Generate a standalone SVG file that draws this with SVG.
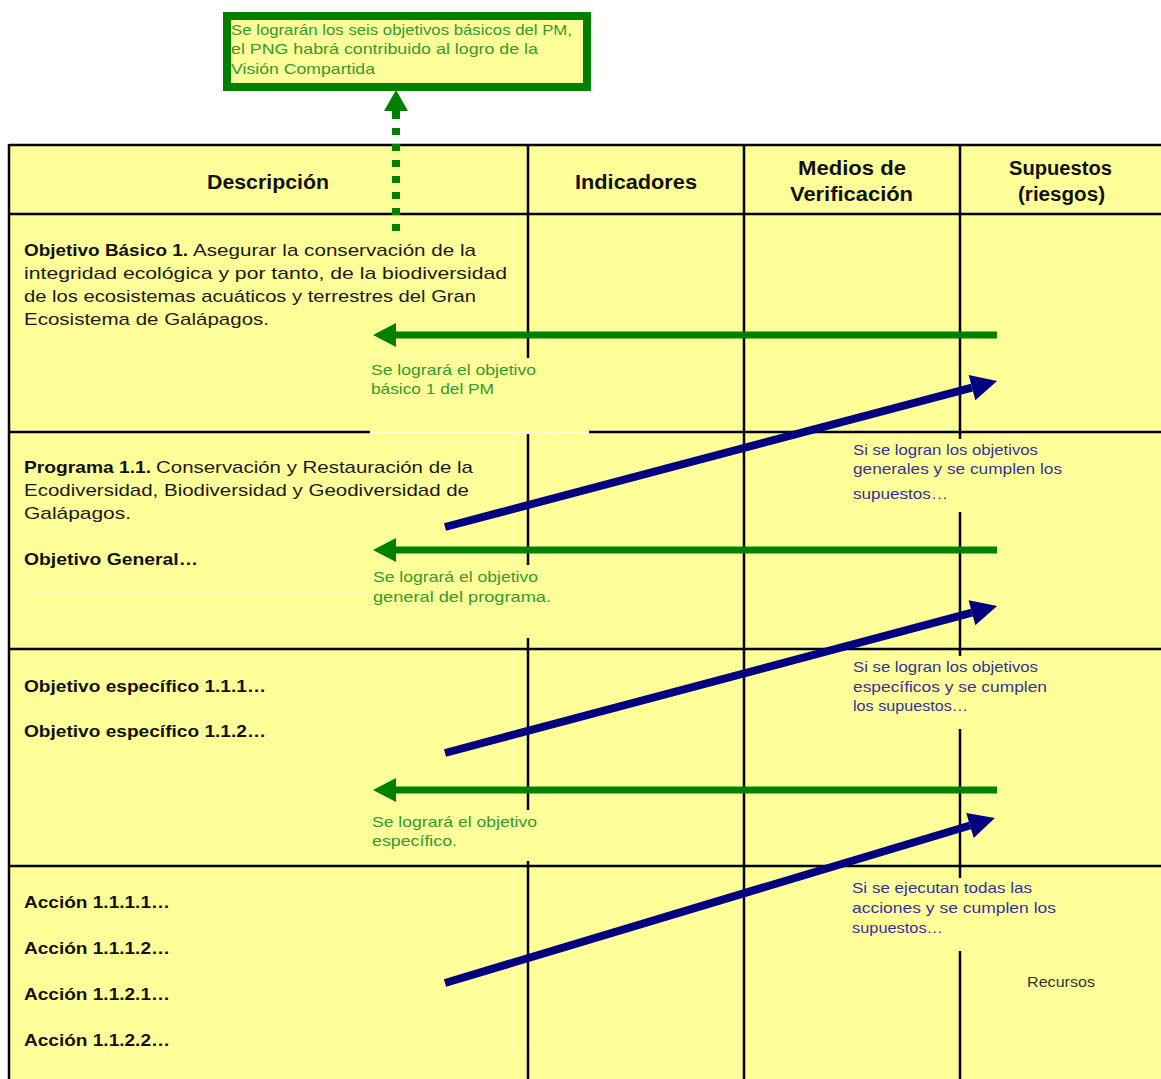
<svg xmlns="http://www.w3.org/2000/svg" width="1161" height="1079" viewBox="0 0 1161 1079">
<style>
.grid{stroke:#000;stroke-width:2.5;fill:none}
.faint{stroke:#ffffcc;stroke-width:1;fill:none}
.cover{fill:#ffff99;stroke:none}
.hd{font-family:"Liberation Sans",Arial,sans-serif;font-weight:bold;font-size:20px;fill:#111}
.bd{font-family:"Liberation Sans",Arial,sans-serif;font-size:17px;fill:#1a1a1a}
.bb{font-family:"Liberation Sans",Arial,sans-serif;font-size:17px;font-weight:bold;fill:#111}
.gl{font-family:"Liberation Sans",Arial,sans-serif;font-size:15px;fill:#339933}
.bl{font-family:"Liberation Sans",Arial,sans-serif;font-size:15px;fill:#333399}
.rc{font-family:"Liberation Sans",Arial,sans-serif;font-size:15px;fill:#333}
.garrow{stroke:#008000;stroke-width:7;fill:none}
.barrow{stroke:#000080;stroke-width:8;fill:none}
</style>
<defs>
<marker id="gh" markerUnits="userSpaceOnUse" markerWidth="26" markerHeight="26" refX="0" refY="12" orient="auto" overflow="visible">
<path d="M0,0 L23,12 L0,24 Z" fill="#008000"/>
</marker>
<marker id="bh" markerUnits="userSpaceOnUse" markerWidth="30" markerHeight="28" refX="0" refY="13" orient="auto" overflow="visible">
<path d="M0,0 L26,13 L0,26 Z" fill="#000080"/>
</marker>
</defs>
<rect x="0" y="0" width="1161" height="1079" fill="#fff"/>

<g id="table">
<rect x="9" y="145" width="1152" height="934" fill="#ffff99"/>
<line class="grid" x1="9" y1="145" x2="1161" y2="145"/>
<line class="grid" x1="9" y1="214" x2="1161" y2="214"/>
<line class="grid" x1="9" y1="432" x2="1161" y2="432"/>
<line class="grid" x1="9" y1="649" x2="1161" y2="649"/>
<line class="grid" x1="9" y1="866" x2="1161" y2="866"/>
<line class="grid" x1="9" y1="144" x2="9" y2="1079"/>
<line class="grid" x1="528" y1="144" x2="528" y2="1079"/>
<line class="grid" x1="744" y1="144" x2="744" y2="1079"/>
<line class="grid" x1="960" y1="144" x2="960" y2="1079"/>
<line class="faint" x1="24" y1="354" x2="513" y2="354"/>
<line class="faint" x1="513" y1="216" x2="513" y2="354"/>
<line class="faint" x1="24" y1="593" x2="372" y2="593"/>
<line class="faint" x1="513" y1="434" x2="513" y2="563"/>
<line class="faint" x1="513" y1="651" x2="513" y2="780"/>
<line class="faint" x1="513" y1="868" x2="513" y2="1048"/>
<line class="faint" x1="24" y1="1048" x2="513" y2="1048"/>
<line class="faint" x1="975" y1="992" x2="1145" y2="992"/>
</g>

<g id="header">
<text class="hd" x="207" y="189" textLength="122" lengthAdjust="spacingAndGlyphs">Descripción</text>
<text class="hd" x="575" y="189" textLength="122" lengthAdjust="spacingAndGlyphs">Indicadores</text>
<text class="hd" x="798" y="175" textLength="108" lengthAdjust="spacingAndGlyphs">Medios de</text>
<text class="hd" x="790" y="201" textLength="123" lengthAdjust="spacingAndGlyphs">Verificación</text>
<text class="hd" x="1009" y="175" textLength="103" lengthAdjust="spacingAndGlyphs">Supuestos</text>
<text class="hd" x="1018" y="201" textLength="87" lengthAdjust="spacingAndGlyphs">(riesgos)</text>
</g>

<g id="row-objetivo-basico">
<text class="bb" x="24" y="256" textLength="164" lengthAdjust="spacingAndGlyphs">Objetivo Básico 1.</text>
<text class="bd" x="193" y="256" textLength="283" lengthAdjust="spacingAndGlyphs">Asegurar la conservación de la</text>
<text class="bd" x="24" y="279" textLength="483" lengthAdjust="spacingAndGlyphs">integridad ecológica y por tanto, de la biodiversidad</text>
<text class="bd" x="24" y="302" textLength="452" lengthAdjust="spacingAndGlyphs">de los ecosistemas acuáticos y terrestres del Gran</text>
<text class="bd" x="24" y="325" textLength="245" lengthAdjust="spacingAndGlyphs">Ecosistema de Galápagos.</text>
</g>

<g id="row-programa">
<text class="bb" x="24" y="473" textLength="127" lengthAdjust="spacingAndGlyphs">Programa 1.1.</text>
<text class="bd" x="156" y="473" textLength="317" lengthAdjust="spacingAndGlyphs">Conservación y Restauración de la</text>
<text class="bd" x="24" y="496" textLength="445" lengthAdjust="spacingAndGlyphs">Ecodiversidad, Biodiversidad y Geodiversidad de</text>
<text class="bd" x="24" y="519" textLength="107" lengthAdjust="spacingAndGlyphs">Galápagos.</text>
<text class="bb" x="24" y="565" textLength="174" lengthAdjust="spacingAndGlyphs">Objetivo General…</text>
</g>

<g id="row-objetivos-especificos">
<text class="bb" x="24" y="692" textLength="242" lengthAdjust="spacingAndGlyphs">Objetivo específico 1.1.1…</text>
<text class="bb" x="24" y="737" textLength="242" lengthAdjust="spacingAndGlyphs">Objetivo específico 1.1.2…</text>
</g>

<g id="row-acciones">
<text class="bb" x="24" y="908" textLength="146" lengthAdjust="spacingAndGlyphs">Acción 1.1.1.1…</text>
<text class="bb" x="24" y="954" textLength="146" lengthAdjust="spacingAndGlyphs">Acción 1.1.1.2…</text>
<text class="bb" x="24" y="1000" textLength="146" lengthAdjust="spacingAndGlyphs">Acción 1.1.2.1…</text>
<text class="bb" x="24" y="1046" textLength="146" lengthAdjust="spacingAndGlyphs">Acción 1.1.2.2…</text>
</g>

<g id="recursos">
<text class="rc" x="1027" y="987" textLength="68" lengthAdjust="spacingAndGlyphs">Recursos</text>
</g>

<g id="label-basico">
<rect class="cover" x="370" y="358" width="219" height="76"/>
<line x1="370" y1="432.5" x2="589" y2="432.5" stroke="#ffffe0" stroke-width="1"/>
<text class="gl" x="371" y="375" textLength="165" lengthAdjust="spacingAndGlyphs">Se logrará el objetivo</text>
<text class="gl" x="371" y="394" textLength="123" lengthAdjust="spacingAndGlyphs">básico 1 del PM</text>
</g>

<g id="label-generales">
<rect class="cover" x="848" y="439" width="300" height="73"/>
<text class="bl" x="853" y="455" textLength="185" lengthAdjust="spacingAndGlyphs">Si se logran los objetivos</text>
<text class="bl" x="853" y="474" textLength="209" lengthAdjust="spacingAndGlyphs">generales y se cumplen los</text>
<text class="bl" x="853" y="499" textLength="95" lengthAdjust="spacingAndGlyphs">supuestos…</text>
</g>

<g id="label-general">
<rect class="cover" x="370" y="565" width="190" height="73"/>
<text class="gl" x="373" y="582" textLength="165" lengthAdjust="spacingAndGlyphs">Se logrará el objetivo</text>
<text class="gl" x="373" y="602" textLength="178" lengthAdjust="spacingAndGlyphs">general del programa.</text>
</g>

<g id="label-especificos">
<rect class="cover" x="848" y="656" width="300" height="73"/>
<text class="bl" x="853" y="672" textLength="185" lengthAdjust="spacingAndGlyphs">Si se logran los objetivos</text>
<text class="bl" x="853" y="692" textLength="194" lengthAdjust="spacingAndGlyphs">específicos y se cumplen</text>
<text class="bl" x="853" y="711" textLength="115" lengthAdjust="spacingAndGlyphs">los supuestos…</text>
</g>

<g id="label-especifico">
<rect class="cover" x="370" y="810" width="190" height="51"/>
<text class="gl" x="372" y="827" textLength="165" lengthAdjust="spacingAndGlyphs">Se logrará el objetivo</text>
<text class="gl" x="372" y="846" textLength="85" lengthAdjust="spacingAndGlyphs">específico.</text>
</g>

<g id="label-acciones">
<rect class="cover" x="847" y="878" width="300" height="73"/>
<text class="bl" x="852" y="893" textLength="180" lengthAdjust="spacingAndGlyphs">Si se ejecutan todas las</text>
<text class="bl" x="852" y="913" textLength="204" lengthAdjust="spacingAndGlyphs">acciones y se cumplen los</text>
<text class="bl" x="852" y="933" textLength="91" lengthAdjust="spacingAndGlyphs">supuestos…</text>
</g>

<g id="vision-box">
<rect x="227" y="16" width="360" height="71" fill="#ffff99" stroke="#008000" stroke-width="8"/>
<text class="gl" x="231" y="35" textLength="341" lengthAdjust="spacingAndGlyphs">Se lograrán los seis objetivos básicos del PM,</text>
<text class="gl" x="231" y="54" textLength="307" lengthAdjust="spacingAndGlyphs">el PNG habrá contribuido al logro de la</text>
<text class="gl" x="231" y="74" textLength="144" lengthAdjust="spacingAndGlyphs">Visión Compartida</text>
</g>

<g id="connectors">
<line x1="396" y1="231" x2="396" y2="112" stroke="#008000" stroke-width="8" stroke-dasharray="7 9"/>
<line x1="396" y1="119" x2="396" y2="110" stroke="#008000" stroke-width="8"/>
<path d="M384,111 L396,90 L408,111 Z" fill="#008000"/>
<line class="garrow" x1="997" y1="335" x2="396" y2="335" marker-end="url(#gh)"/>
<line class="garrow" x1="997" y1="550" x2="396" y2="550" marker-end="url(#gh)"/>
<line class="garrow" x1="997" y1="790" x2="396" y2="790" marker-end="url(#gh)"/>
<line class="barrow" x1="445" y1="527" x2="972" y2="387.6" marker-end="url(#bh)"/>
<line class="barrow" x1="445" y1="753" x2="972" y2="612.7" marker-end="url(#bh)"/>
<line class="barrow" x1="445" y1="983" x2="970" y2="825.5" marker-end="url(#bh)"/>
</g>
</svg>
